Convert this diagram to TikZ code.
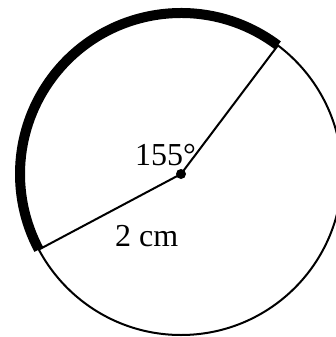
\documentclass[tikz,border=0pt]{standalone}
\usepackage{fontspec}
\setmainfont{Liberation Serif}
\usetikzlibrary{calc}
\begin{document}
\begin{tikzpicture}[x=1pt,y=1pt,
  thin circle/.style={line width=2pt},
  arcline/.style={line width=10pt,line cap=butt},
  radius line/.style={line width=2pt},
  lbl/.style={font=\fontsize{32}{36}\selectfont,inner sep=0pt,anchor=base west}]
\useasboundingbox (0,0) rectangle (336,-337);
\begin{scope}
\clip (0,0) rectangle (336,-337);
\coordinate (O) at (181,-174);
\draw[thin circle] (O) circle[radius=161];
\coordinate (A) at ($(O)+(53:161)$);
\coordinate (B) at ($(O)+(208:161)$);
\draw[arcline] (A) arc[start angle=53,end angle=208,radius=161];
\draw[radius line] (A) -- (O) -- (B);
\fill (O) circle[radius=5];
\node[lbl] (ang) at (135,-165) {155°};
\node[lbl] (len) at (115,-246) {2 cm};
\end{scope}
\end{tikzpicture}
\end{document}
